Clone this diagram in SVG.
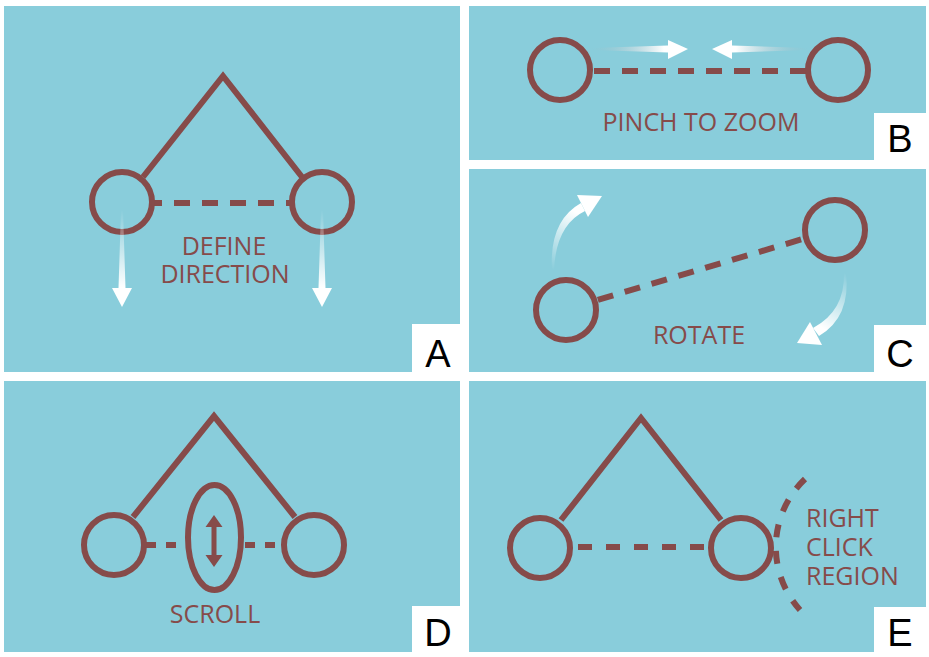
<svg xmlns="http://www.w3.org/2000/svg" width="929" height="657" viewBox="0 0 929 657">
<defs>
<style>
.panel{fill:#89CDDB}
.lbox{fill:#FFFFFF}
.node{fill:none;stroke:#864B4A;stroke-width:6}
.edge{fill:none;stroke:#864B4A;stroke-width:6}
.dash{fill:none;stroke:#864B4A;stroke-width:6}
.txt{font-family:"Open Sans","Liberation Sans",sans-serif;font-size:25px;fill:#864B4A}
.let{font-family:"Liberation Sans","Open Sans",sans-serif;font-size:38px;fill:#000000;text-anchor:middle}
</style>
<linearGradient id="gDown" x1="0" y1="0" x2="0" y2="1">
<stop offset="0" stop-color="#FFFFFF" stop-opacity="0"/>
<stop offset="0.8" stop-color="#FFFFFF" stop-opacity="1"/>
</linearGradient>
<linearGradient id="gRight" x1="0" y1="0" x2="1" y2="0">
<stop offset="0" stop-color="#9FB6BE" stop-opacity="0"/>
<stop offset="0.75" stop-color="#FFFFFF" stop-opacity="1"/>
</linearGradient>
<linearGradient id="gLeft" x1="1" y1="0" x2="0" y2="0">
<stop offset="0" stop-color="#9FB6BE" stop-opacity="0"/>
<stop offset="0.75" stop-color="#FFFFFF" stop-opacity="1"/>
</linearGradient>
<linearGradient id="gRotA" gradientUnits="userSpaceOnUse" x1="553" y1="270" x2="595" y2="200">
<stop offset="0" stop-color="#FFFFFF" stop-opacity="0"/>
<stop offset="0.75" stop-color="#FFFFFF" stop-opacity="1"/>
</linearGradient>
<linearGradient id="gRotB" gradientUnits="userSpaceOnUse" x1="845" y1="273" x2="805" y2="340">
<stop offset="0" stop-color="#FFFFFF" stop-opacity="0"/>
<stop offset="0.75" stop-color="#FFFFFF" stop-opacity="1"/>
</linearGradient>
</defs>

<g id="panels">
<rect class="panel" x="4" y="6" width="456" height="366"/>
<rect class="panel" x="469" y="6" width="457" height="154"/>
<rect class="panel" x="469" y="169" width="457" height="203"/>
<rect class="panel" x="4" y="381" width="456" height="271"/>
<rect class="panel" x="469" y="381" width="457" height="271"/>
</g>

<g id="connectors">
<polyline class="edge" points="143,177 223,76 302,177"/>
<line class="dash" x1="150" y1="203" x2="294" y2="203" stroke-dasharray="16 12" stroke-dashoffset="4"/>
<line class="dash" x1="590" y1="71" x2="808" y2="71" stroke-dasharray="16 12" stroke-dashoffset="-4"/>
<line class="dash" x1="594" y1="301" x2="806" y2="238" stroke-dasharray="16 12" stroke-dashoffset="-4"/>
<polyline class="edge" points="133,517 214,416 295,517"/>
<line class="dash" x1="144" y1="545" x2="188" y2="545" stroke-dasharray="10 10" stroke-dashoffset="-2"/>
<line class="dash" x1="241" y1="545" x2="285" y2="545" stroke-dasharray="10 10" stroke-dashoffset="-4"/>
<polyline class="edge" points="561,520 641,418 721,520"/>
<line class="dash" x1="570" y1="547" x2="712" y2="547" stroke-dasharray="14 14" stroke-dashoffset="-8"/>
<path class="dash" d="M805,479 A94,94 0 0 0 800,610" stroke-dasharray="13 13.6"/>
</g>

<g id="nodeA">
<circle class="node" cx="122" cy="202" r="30"/>
<circle class="node" cx="322" cy="202" r="30"/>
<path d="M121,210 L123,210 L125.5,288 L132,288 L122,307 L112,288 L118.5,288 Z" fill="url(#gDown)"/>
<path d="M321,210 L323,210 L325.5,288 L332,288 L322,307 L312,288 L318.5,288 Z" fill="url(#gDown)"/>
<text class="txt" x="224" y="255" text-anchor="middle">DEFINE</text>
<text class="txt" x="225" y="283" text-anchor="middle">DIRECTION</text>
<rect class="lbox" x="412" y="324" width="48" height="48"/>
<text class="let" x="438" y="367">A</text>
</g>

<g id="nodeB">
<circle class="node" cx="560" cy="70" r="30"/>
<circle class="node" cx="838" cy="70" r="30"/>
<path d="M592,48 L668,45.5 L668,40 L688,49 L668,59 L668,52.5 L592,50 Z" fill="url(#gRight)"/>
<path d="M808,48 L732,45.5 L732,40 L712,49 L732,59 L732,52.5 L808,50 Z" fill="url(#gLeft)"/>
<text class="txt" x="701" y="131" text-anchor="middle">PINCH TO ZOOM</text>
<rect class="lbox" x="874" y="113" width="52" height="47"/>
<text class="let" x="900" y="152">B</text>
</g>

<g id="nodeC">
<circle class="node" cx="566" cy="310" r="30"/>
<circle class="node" cx="835" cy="230" r="30"/>
<path d="M552,270 Q549,221 581,203 L585,211 Q556,225 554,270 Z" fill="url(#gRotA)"/>
<path d="M602,196 L577,195 L588,217 Z" fill="url(#gRotA)"/>
<path d="M844,273 Q845,311 813,328 L819,336 Q851,317 846,273 Z" fill="url(#gRotB)"/>
<path d="M797,343 L810,322 L822,345 Z" fill="url(#gRotB)"/>
<text class="txt" x="699" y="344" text-anchor="middle">ROTATE</text>
<rect class="lbox" x="874" y="325" width="52" height="47"/>
<text class="let" x="900" y="367">C</text>
</g>

<g id="nodeD">
<circle class="node" cx="114" cy="545" r="30"/>
<circle class="node" cx="314" cy="545" r="30"/>
<ellipse class="node" cx="214.5" cy="537.5" rx="26.5" ry="52.5"/>
<path d="M214,515 L222.5,527 L216.5,527 L216.5,555 L222.5,555 L214,567 L205.5,555 L211.5,555 L211.5,527 L205.5,527 Z" fill="#864B4A"/>
<text class="txt" x="215" y="623" text-anchor="middle">SCROLL</text>
<rect class="lbox" x="412" y="606" width="48" height="46"/>
<text class="let" x="438" y="646">D</text>
</g>

<g id="nodeE">
<circle class="node" cx="540" cy="548" r="30"/>
<circle class="node" cx="741" cy="548" r="30"/>
<text class="txt" x="806" y="527">RIGHT</text>
<text class="txt" x="806" y="556">CLICK</text>
<text class="txt" x="806" y="585">REGION</text>
<rect class="lbox" x="874" y="607" width="52" height="45"/>
<text class="let" x="900" y="646">E</text>
</g>
</svg>
